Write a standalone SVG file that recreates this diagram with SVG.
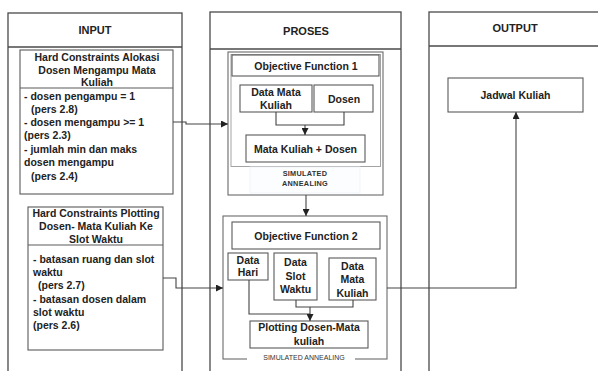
<svg xmlns="http://www.w3.org/2000/svg" width="598" height="371" viewBox="0 0 598 371">
<defs>
<style>
.col{fill:#fff;stroke:#4a4a4a;stroke-width:1.3}
.box{fill:#fff;stroke:#5a5a5a;stroke-width:1.1}
.grp{fill:#fff;stroke:#6a6a6a;stroke-width:1.1}
.hd{font-family:"Liberation Sans",Arial,sans-serif;font-weight:bold;font-size:11px;fill:#222;text-anchor:middle}
.t{font-family:"Liberation Sans",Arial,sans-serif;font-weight:bold;font-size:10.5px;fill:#222}
.c{text-anchor:middle}
.sa{font-family:"Liberation Sans",Arial,sans-serif;font-weight:bold;font-size:7.3px;fill:#333;text-anchor:middle;letter-spacing:0.3px}
.sa2{font-family:"Liberation Sans",Arial,sans-serif;font-size:7px;fill:#333;text-anchor:middle}
.ln{fill:none;stroke:#444;stroke-width:1.1}
</style>
<marker id="ah" viewBox="0 0 10 10" refX="10" refY="5" markerWidth="7" markerHeight="7" markerUnits="userSpaceOnUse" orient="auto">
<path d="M0,0 L10,5 L0,10 z" fill="#222"/>
</marker>
</defs>

<g id="col-input">
<rect class="col" x="8" y="13" width="174" height="370"/>
<line x1="8" y1="47" x2="182" y2="47" stroke="#4a4a4a" stroke-width="1.3"/>
<text class="hd" x="95" y="34">INPUT</text>
</g>

<g id="col-proses">
<rect class="col" x="210" y="12" width="191" height="371"/>
<line x1="210" y1="49" x2="401" y2="49" stroke="#4a4a4a" stroke-width="1.3"/>
<text class="hd" x="306" y="35">PROSES</text>
</g>

<g id="col-output">
<rect class="col" x="429" y="12" width="175" height="371"/>
<line x1="429" y1="46" x2="604" y2="46" stroke="#4a4a4a" stroke-width="1.3"/>
<text class="hd" x="515" y="32">OUTPUT</text>
</g>

<g id="hc1">
<rect class="box" x="20" y="50" width="153" height="144"/>
<line x1="20" y1="88" x2="173" y2="88" stroke="#5a5a5a" stroke-width="1.1"/>
<text class="t c" x="97" y="61">Hard Constraints Alokasi</text>
<text class="t c" x="97" y="74">Dosen Mengampu Mata</text>
<text class="t c" x="97" y="86">Kuliah</text>
<text class="t" x="24" y="100">- dosen pengampu = 1</text>
<text class="t" x="31" y="113">(pers 2.8)</text>
<text class="t" x="24" y="126">- dosen mengampu &gt;= 1</text>
<text class="t" x="24" y="139">(pers 2.3)</text>
<text class="t" x="24" y="152.5">- jumlah min dan maks</text>
<text class="t" x="24" y="166">dosen mengampu</text>
<text class="t" x="31" y="180">(pers 2.4)</text>
</g>

<g id="hc2">
<rect class="box" x="28" y="207" width="135" height="143"/>
<line x1="28" y1="245" x2="163" y2="245" stroke="#5a5a5a" stroke-width="1.1"/>
<text class="t c" x="96" y="217">Hard Constraints Plotting</text>
<text class="t c" x="96" y="230">Dosen- Mata Kuliah Ke</text>
<text class="t c" x="96" y="242.5">Slot Waktu</text>
<text class="t" x="33" y="263">- batasan ruang dan slot</text>
<text class="t" x="33" y="276">waktu</text>
<text class="t" x="38" y="289">(pers 2.7)</text>
<text class="t" x="33" y="303">- batasan dosen dalam</text>
<text class="t" x="33" y="316">slot waktu</text>
<text class="t" x="33" y="329">(pers 2.6)</text>
</g>

<g id="of1">
<rect class="grp" x="228" y="52" width="155" height="143"/>
<rect x="231" y="54.5" width="149.5" height="112" fill="none" stroke="#9a9a9a" stroke-width="0.9"/>
<rect class="box" x="232" y="55" width="147" height="21"/>
<text class="t c" x="306" y="69.5">Objective Function 1</text>
<rect class="box" x="240" y="85" width="72" height="27"/>
<text class="t c" x="276" y="95.5">Data Mata</text>
<text class="t c" x="276" y="109">Kuliah</text>
<rect class="box" x="314" y="85" width="59" height="27"/>
<text class="t c" x="344" y="102.5">Dosen</text>
<rect class="box" x="246" y="135" width="119" height="27"/>
<text class="t c" x="305.5" y="152.5">Mata Kuliah + Dosen</text>
<rect x="250" y="167" width="110" height="26" fill="#fbfdff" stroke="#eef3f8" stroke-width="0.8"/>
<text class="sa" x="305" y="175.5">SIMULATED</text>
<text class="sa" x="305" y="186">ANNEALING</text>
</g>

<g id="of2">
<rect class="grp" x="223" y="216" width="164" height="143"/>
<rect x="247" y="354" width="108" height="8" fill="#fff"/>
<text class="sa2" x="304" y="359.5">SIMULATED ANNEALING</text>
<rect class="box" x="232" y="222" width="148" height="27"/>
<text class="t c" x="306" y="240">Objective Function 2</text>
<rect class="box" x="228" y="253" width="40" height="27"/>
<text class="t c" x="248" y="263.5">Data</text>
<text class="t c" x="248" y="276">Hari</text>
<rect class="box" x="274" y="253" width="43" height="47"/>
<text class="t c" x="295.5" y="265.5">Data</text>
<text class="t c" x="295.5" y="279.5">Slot</text>
<text class="t c" x="295.5" y="293">Waktu</text>
<rect class="box" x="329" y="258" width="47" height="42"/>
<text class="t c" x="352.5" y="269.5">Data</text>
<text class="t c" x="352.5" y="283">Mata</text>
<text class="t c" x="352.5" y="296.5">Kuliah</text>
<rect class="box" x="250" y="321" width="118" height="27"/>
<text class="t c" x="309" y="331">Plotting Dosen-Mata</text>
<text class="t c" x="309" y="345">kuliah</text>
</g>

<g id="out">
<rect class="box" x="448" y="78" width="135" height="34"/>
<text class="t c" x="515.5" y="98.5">Jadwal Kuliah</text>
</g>

<g id="connectors">
<path class="ln" d="M173,122 H186 V124 H228" marker-end="url(#ah)"/>
<path class="ln" d="M163,278 H176 V288 H223" marker-end="url(#ah)"/>
<path class="ln" d="M276,112 V125 H344 V112"/>
<path class="ln" d="M305,125 V135" marker-end="url(#ah)"/>
<path class="ln" d="M306,195 V216" marker-end="url(#ah)"/>
<path class="ln" d="M249,280 V314 H310"/>
<path class="ln" d="M296,300 V307 H353 V300"/>
<path class="ln" d="M310,307 V321" marker-end="url(#ah)"/>
<path class="ln" d="M387,288 H516 V112" marker-end="url(#ah)"/>
</g>
</svg>
